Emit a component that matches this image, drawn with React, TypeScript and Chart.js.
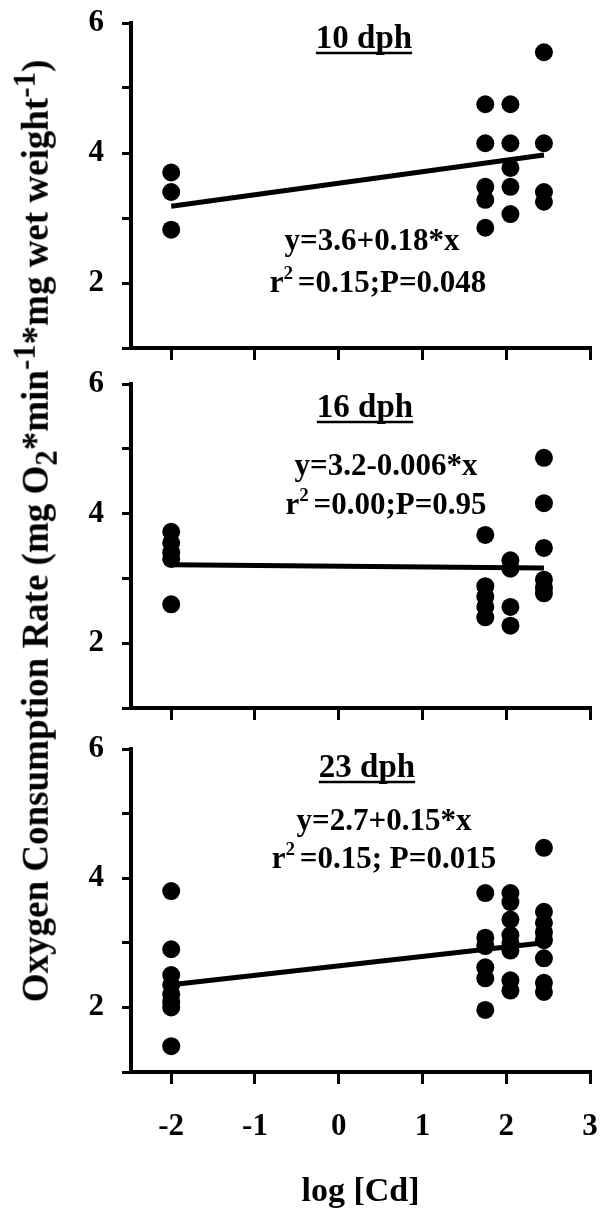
import React, { useEffect, useRef } from 'react';
import { Chart, registerables } from 'chart.js';

Chart.register(...registerables);

const FONT = '"Liberation Serif", "Times New Roman", serif';

// ---- data ----
const xTickValues = [-2, -1, 0, 1, 2, 3];
const yTickValues = [1, 2, 3, 4, 5, 6];
const xAxisTitle = 'log [Cd]';

// 10 dph
const dph10X = [-2, -2, -2, 1.75, 1.75, 1.75, 1.75, 1.75, 2.05, 2.05, 2.05, 2.05, 2.05, 2.45, 2.45, 2.45, 2.45];
const dph10Y = [3.7, 3.4, 2.82, 4.75, 4.15, 3.48, 3.28, 2.85, 4.75, 4.15, 3.77, 3.48, 3.06, 5.55, 4.15, 3.4, 3.25];
const dph10FitX = [-2, 2.45];
const dph10FitY = [3.18, 3.97];

// 16 dph
const dph16X = [-2, -2, -2, -2, -2, 1.75, 1.75, 1.75, 1.75, 1.75, 2.05, 2.05, 2.05, 2.05, 2.45, 2.45, 2.45, 2.45, 2.45, 2.45];
const dph16Y = [3.72, 3.55, 3.4, 3.3, 2.6, 3.67, 2.88, 2.72, 2.56, 2.4, 3.28, 3.15, 2.56, 2.27, 4.86, 4.16, 3.47, 2.98, 2.85, 2.77];
const dph16FitX = [-2, 2.45];
const dph16FitY = [3.21, 3.16];

// 23 dph
const dph23X = [-2, -2, -2, -2, -2, -2, -2, -2, 1.75, 1.75, 1.75, 1.75, 1.75, 1.75, 2.05, 2.05, 2.05, 2.05, 2.05, 2.05, 2.05, 2.05, 2.45, 2.45, 2.45, 2.45, 2.45, 2.45, 2.45, 2.45];
const dph23Y = [3.8, 2.9, 2.5, 2.35, 2.2, 2.08, 2.0, 1.4, 3.77, 3.08, 2.95, 2.62, 2.45, 1.96, 3.77, 3.63, 3.36, 3.12, 3.0, 2.88, 2.42, 2.26, 4.47, 3.48, 3.31, 3.16, 3.04, 2.76, 2.38, 2.24];
const dph23FitX = [-2, 2.45];
const dph23FitY = [2.35, 3.0];

const panelTitles = ['10 dph', '16 dph', '23 dph'];
const equations = ['y=3.6+0.18*x', 'y=3.2-0.006*x', 'y=2.7+0.15*x'];
const statsText = ['=0.15;P=0.048', '=0.00;P=0.95', '=0.15; P=0.015'];

type Seg = { t: string; sup?: boolean };

const textPlugin = {
  id: 'panelText',
  afterDraw(chart: any) {
    const o = chart.options.plugins.panelText;
    if (!o) return;
    const ctx = chart.ctx as CanvasRenderingContext2D;
    ctx.save();
    ctx.fillStyle = '#000';
    ctx.strokeStyle = '#000';
    ctx.textBaseline = 'alphabetic';
    // title with underline
    ctx.font = `bold 33px ${FONT}`;
    const tw = ctx.measureText(o.title).width;
    const tx = o.titleX - tw / 2;
    ctx.fillText(o.title, tx, o.titleY);
    ctx.lineWidth = 2.5;
    ctx.beginPath();
    ctx.moveTo(tx, o.titleY + 5);
    ctx.lineTo(tx + tw, o.titleY + 5);
    ctx.stroke();
    // rich lines
    const drawRich = (segs: Seg[], cx: number, by: number) => {
      const widths = segs.map((s) => {
        ctx.font = s.sup ? `bold 19px ${FONT}` : `bold 31px ${FONT}`;
        return ctx.measureText(s.t).width;
      });
      let x = cx - widths.reduce((a, b) => a + b, 0) / 2;
      segs.forEach((s, i) => {
        ctx.font = s.sup ? `bold 19px ${FONT}` : `bold 31px ${FONT}`;
        ctx.fillText(s.t, x, s.sup ? by - 13 : by);
        x += widths[i];
      });
    };
    drawRich([{ t: o.eq }], o.eqX, o.eqY);
    drawRich([{ t: 'r' }, { t: '2 ', sup: true }, { t: o.stats }], o.statX, o.statY);
    ctx.restore();
  },
};

type PanelProps = {
  xs: number[];
  ys: number[];
  fitX: number[];
  fitY: number[];
  top: number;
  height: number;
  padTop: number;
  xHeight: number;
  showLabels: boolean;
  text: any;
};

function Panel(p: PanelProps) {
  const ref = useRef<HTMLCanvasElement>(null);
  useEffect(() => {
    if (!ref.current) return;
    const tickFont = { family: FONT, size: 31, weight: 'bold' as const };
    const chart = new Chart(ref.current, {
      type: 'scatter',
      data: {
        datasets: [
          {
            type: 'line',
            data: p.fitX.map((x, i) => ({ x, y: p.fitY[i] })),
            borderColor: '#000',
            borderWidth: 5,
            pointRadius: 0,
            showLine: true,
            fill: false,
          } as any,
          {
            type: 'scatter',
            data: p.xs.map((x, i) => ({ x, y: p.ys[i] })),
            backgroundColor: '#000',
            borderColor: '#000',
            borderWidth: 0,
            pointRadius: 9,
          },
        ],
      },
      options: {
        animation: false,
        responsive: false,
        maintainAspectRatio: false,
        layout: { padding: { top: p.padTop, right: 10, left: 0, bottom: 0 } },
        plugins: {
          legend: { display: false },
          tooltip: { enabled: false },
          panelText: p.text,
        } as any,
        scales: {
          x: {
            type: 'linear',
            min: -2.48,
            max: 3,
            afterBuildTicks: (s: any) => {
              s.ticks = xTickValues.map((v) => ({ value: v }));
            },
            afterFit: (s: any) => {
              s.height = p.xHeight;
              s.paddingLeft = 0;
              s.paddingRight = 0;
              s.paddingTop = 0;
              s.paddingBottom = 0;
            },
            ticks: {
              display: p.showLabels,
              font: tickFont,
              color: '#000',
              padding: 24,
              callback: (v: any) => String(v),
            },
            grid: { drawOnChartArea: false, drawTicks: true, tickLength: 12, color: '#000', lineWidth: 3 },
            border: { display: true, color: '#000', width: 4 },
            title: {
              display: p.showLabels,
              text: xAxisTitle,
              font: { family: FONT, size: 34, weight: 'bold' },
              color: '#000',
              padding: { top: 0, bottom: 0 },
            },
          },
          y: {
            type: 'linear',
            min: 1,
            max: 6,
            afterBuildTicks: (s: any) => {
              s.ticks = yTickValues.map((v) => ({ value: v }));
            },
            afterFit: (s: any) => {
              s.width = 131;
              s.paddingLeft = 0;
              s.paddingRight = 0;
              s.paddingTop = 0;
              s.paddingBottom = 0;
            },
            ticks: {
              font: tickFont,
              color: '#000',
              padding: 18,
              callback: (v: any) => (Number(v) % 2 === 0 ? String(v) : ''),
            },
            grid: { drawOnChartArea: false, drawTicks: true, tickLength: 9, color: '#000', lineWidth: 3 },
            border: { display: true, color: '#000', width: 4 },
          },
        },
      },
      plugins: [textPlugin],
    });
    return () => chart.destroy();
  }, []);
  return (
    <canvas
      ref={ref}
      width={600}
      height={p.height}
      style={{ position: 'absolute', left: 0, top: p.top, width: 600, height: p.height }}
    />
  );
}

export default function App() {
  return (
    <div style={{ position: 'absolute', left: 0, top: 0, width: 600, height: 1213, background: '#fff', overflow: 'hidden' }}>
      <Panel
        xs={dph10X}
        ys={dph10Y}
        fitX={dph10FitX}
        fitY={dph10FitY}
        top={0}
        height={372}
        padTop={23}
        xHeight={24}
        showLabels={false}
        text={{ title: panelTitles[0], titleX: 364, titleY: 48, eq: equations[0], eqX: 372, eqY: 250, stats: statsText[0], statX: 378, statY: 292 }}
      />
      <Panel
        xs={dph16X}
        ys={dph16Y}
        fitX={dph16FitX}
        fitY={dph16FitY}
        top={360}
        height={372}
        padTop={24}
        xHeight={24}
        showLabels={false}
        text={{ title: panelTitles[1], titleX: 365, titleY: 57, eq: equations[1], eqX: 386, eqY: 115, stats: statsText[1], statX: 386, statY: 154 }}
      />
      <Panel
        xs={dph23X}
        ys={dph23Y}
        fitX={dph23FitX}
        fitY={dph23FitY}
        top={726}
        height={487}
        padTop={23}
        xHeight={141}
        showLabels={true}
        text={{ title: panelTitles[2], titleX: 367, titleY: 51, eq: equations[2], eqX: 384, eqY: 104, stats: statsText[2], statX: 384, statY: 142 }}
      />
      <div
        style={{
          position: 'absolute',
          left: 36,
          top: 531,
          transform: 'translate(-50%, -50%) rotate(-90deg)',
          whiteSpace: 'nowrap',
          font: `bold 37px ${FONT}`,
          lineHeight: 1,
          color: '#000',
        }}
      >
        Oxygen Consumption Rate (mg O<sub>2</sub>*min<sup>-1</sup>*mg wet weight<sup>-1</sup>)
      </div>
    </div>
  );
}
